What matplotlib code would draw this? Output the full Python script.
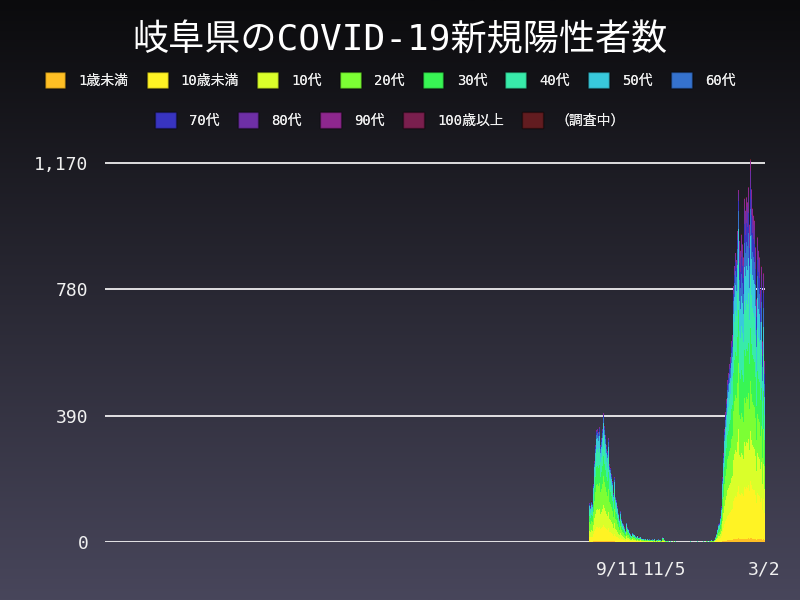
#!/usr/bin/env python
# coding: utf-8
"""
Gifu prefecture COVID-19 daily new positives, stacked by age group.
"""

import numpy as np
import matplotlib
matplotlib.use('Agg')
import matplotlib.pyplot as plt
from matplotlib.patches import Patch
from matplotlib.ticker import FuncFormatter

# pylint: disable=invalid-name

TITLE = '岐阜県のCOVID-19新規陽性者数'

age_labels = ['1歳未満', '10歳未満', '10代', '20代', '30代', '40代', '50代', '60代',
              '70代', '80代', '90代', '100歳以上', '（調査中）']
age_colors = ['#ffbf24', '#fff324', '#daff2a', '#7cff34', '#38f554', '#38ebaa', '#38c9dc', '#3572ce',
              '#3834c0', '#6e2fa6', '#8e278e', '#7a1f4e', '#621c20']

axis_start = '2020-01-21'
axis_end = '2022-03-02'
data_start = '2021-08-09'

# daily totals
cases_aug = [120, 110, 140, 125, 118, 180, 250, 300, 345, 330, 350, 340, 355, 300, 320, 350,
             390, 398, 360, 330, 300, 280, 320]
cases_sep = [260, 240, 230, 210, 190, 150, 200, 160, 140, 130,
             110, 90, 70, 95, 80, 70, 60, 55, 45, 35,
             60, 50, 45, 40, 30, 25, 20, 35, 28, 25]
cases_oct = [22, 18, 15, 20, 17, 12, 14, 16, 11, 10,
             9, 12, 8, 10, 7, 9, 6, 8, 10, 7,
             6, 8, 5, 9, 4, 6, 7, 5, 8, 6, 5]
cases_nov = [4, 10, 14, 12, 6, 3, 2, 4, 3, 2,
             1, 2, 0, 1, 3, 1, 0, 2, 1, 0,
             1, 0, 2, 0, 1, 0, 0, 1, 2, 0]
cases_dec = [0, 1, 0, 0, 2, 0, 1, 0, 0, 1,
             0, 0, 1, 2, 0, 1, 0, 0, 1, 0,
             2, 1, 0, 3, 2, 1, 4, 2, 3, 5, 4]
cases_jan = [3, 6, 10, 15, 25, 40, 55, 60, 80, 130,
             110, 200, 275, 350, 400, 440, 420, 500, 520, 550,
             570, 620, 640, 560, 790, 850, 890, 870, 960, 1000, 1085]
cases_feb = [930, 900, 950, 920, 880, 700, 1060, 1024, 1065, 1050,
             1096, 980, 800, 1180, 1090, 1030, 1009, 993, 911, 1004,
             750, 942, 900, 880, 780, 850, 834, 620]
cases_mar = [830, 560]

# age composition (percent) per period, same order as age_labels
period_starts = ['2021-08-09', '2022-01-01', '2022-02-01']
share_wave5 = [1.0, 12.0, 16.0, 22.0, 16.0, 15.0, 10.0, 4.0, 2.0, 1.2, 0.6, 0.0, 0.2]
share_jan = [1.0, 15.0, 16.0, 19.0, 15.0, 14.0, 9.0, 5.0, 3.0, 2.0, 1.0, 0.0, 0.0]
share_feb = [1.0, 15.0, 13.0, 13.0, 14.0, 14.0, 10.0, 7.0, 5.5, 4.5, 2.7, 0.1, 0.2]

y_ticks = [0, 390, 780, 1170]
y_max = 1205
x_tick_dates = ['2021-09-11', '2021-11-05', '2022-03-02']
x_tick_labels = ['9/11', '11/5', '3/2']

BG_TOP = '#0b0b0d'
BG_BOTTOM = '#48465b'
TEXT = '#f0f0f0'
FONT = ['DejaVu Sans Mono', 'Noto Sans CJK JP']


def _day(s):
    return (np.datetime64(s) - np.datetime64(axis_start)).astype(int)
# end func


def main():
    plt.rcParams['font.family'] = FONT

    totals = np.array(cases_aug + cases_sep + cases_oct + cases_nov + cases_dec
                      + cases_jan + cases_feb + cases_mar, dtype=float)
    dates = np.datetime64(data_start) + np.arange(len(totals))
    x = (dates - np.datetime64(axis_start)).astype(int)

    starts = np.array(period_starts, dtype='datetime64[D]')
    idx = np.searchsorted(starts, dates, side='right') - 1
    shares = np.array([share_wave5, share_jan, share_feb])/100.0
    stacks = shares[idx]*totals[:, None]

    fig = plt.figure(figsize=(8, 6), dpi=100)

    # background gradient
    bg = fig.add_axes([0, 0, 1, 1], zorder=-10)
    c0 = np.array(matplotlib.colors.to_rgb(BG_TOP))
    c1 = np.array(matplotlib.colors.to_rgb(BG_BOTTOM))
    t = np.linspace(0, 1, 256)[:, None]
    grad = (c0*(1 - t) + c1*t)[:, None, :]
    bg.imshow(grad, aspect='auto', extent=[0, 1, 0, 1])
    bg.axis('off')

    ax = fig.add_axes([0.13125, 0.0967, 0.825, 0.651])
    ax.set_facecolor('none')

    bottom = np.zeros(len(totals))
    for i, color in enumerate(age_colors):
        ax.bar(x, stacks[:, i], bottom=bottom, width=1.0, color=color, linewidth=0, zorder=2)
        bottom += stacks[:, i]
    # end for

    ax.set_xlim(-0.5, _day(axis_end) + 0.5)
    ax.set_ylim(0, y_max)
    ax.set_yticks(y_ticks)
    ax.yaxis.set_major_formatter(FuncFormatter(lambda v, _: '{:,}'.format(int(v))))
    ax.set_xticks([_day(d) for d in x_tick_dates])
    ax.set_xticklabels(x_tick_labels)
    ax.yaxis.grid(True, color='white', linewidth=1.2, zorder=1)
    ax.set_axisbelow(True)
    for sp in ax.spines.values():
        sp.set_visible(False)
    # end for
    ax.tick_params(axis='y', length=0, pad=12, labelsize=13, labelcolor=TEXT)
    ax.tick_params(axis='x', length=0, pad=13, labelsize=13, labelcolor=TEXT)

    fig.text(0.5, 1 - 40/600, TITLE, ha='center', va='center', fontsize=26, color='white')

    handles = [Patch(facecolor=c, edgecolor=(0, 0, 0, 0.35), linewidth=1) for c in age_colors]
    rows = [(0, 8, 80), (8, 13, 120)]
    for lo, hi, ypix in rows:
        leg = fig.legend(handles[lo:hi], age_labels[lo:hi], loc='center', ncol=hi - lo,
                         bbox_to_anchor=(0.4875, 1 - ypix/600), frameon=False,
                         prop={'family': FONT, 'size': 10}, labelcolor=TEXT,
                         handlelength=1.5, handleheight=1.5, handletextpad=0.95,
                         columnspacing=1.3)
        fig.add_artist(leg)
    # end for

    fig.savefig('out.png', dpi=100)
# end func


if __name__ == "__main__":
    main()
# end if
